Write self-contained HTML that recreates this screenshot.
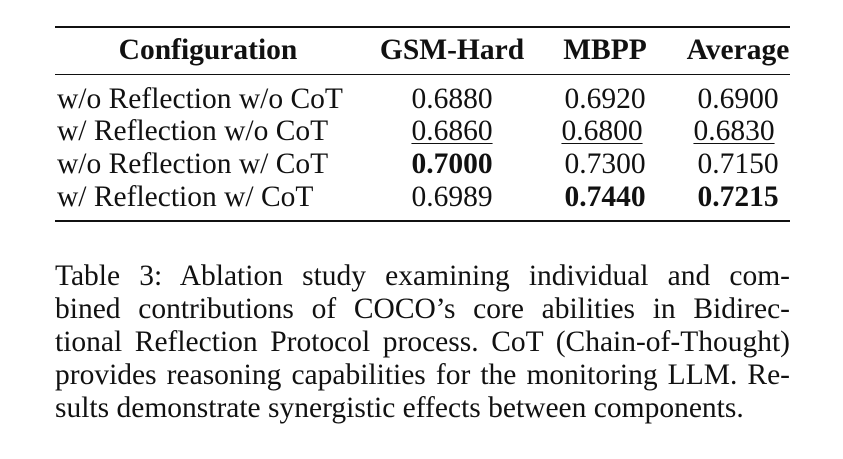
<!DOCTYPE html>
<html><head><meta charset="utf-8"><style>
body{margin:0;width:843px;height:459px;background:#fff;position:relative;overflow:hidden;font-family:"Liberation Serif",serif;color:#111}
.r{position:absolute;left:55px;width:735px;background:#111}
.t{position:absolute;font-size:29.5px;line-height:32px;white-space:nowrap}
.c{transform:translateX(-50%)}
.b{font-weight:bold}
.u{text-decoration:underline;text-decoration-thickness:1px;text-underline-offset:3px}
.cap{position:absolute;left:55px;width:735px;font-size:29.5px;line-height:33px;text-align:justify;top:260px}
.cap span{display:block;text-align:justify;text-align-last:justify;white-space:nowrap}
.cap span.l{text-align-last:left}
</style></head><body>
<div>
<div class="r" style="top:26px;height:2px"></div>
<div class="r" style="top:74px;height:1px"></div>
<div class="r" style="top:220px;height:2px"></div>
<div class="t c b" style="left:208px;top:34px">Configuration</div>
<div class="t c b" style="left:452px;top:34px">GSM-Hard</div>
<div class="t c b" style="left:605px;top:34px">MBPP</div>
<div class="t c b" style="left:738px;top:34px">Average</div>

<div class="t" style="left:57px;top:83px">w/o Reflection w/o CoT</div>
<div class="t c" style="left:452px;top:83px">0.6880</div>
<div class="t c" style="left:605px;top:83px">0.6920</div>
<div class="t c" style="left:738px;top:83px">0.6900</div>

<div class="t" style="left:57px;top:115px">w/ Reflection w/o CoT</div>
<div class="t c u" style="left:452px;top:115px">0.6860</div>
<div class="t c u" style="left:602px;top:115px">0.6800</div>
<div class="t c u" style="left:734px;top:115px">0.6830</div>

<div class="t" style="left:57px;top:148px">w/o Reflection w/ CoT</div>
<div class="t c b" style="left:452px;top:148px">0.7000</div>
<div class="t c" style="left:605px;top:148px">0.7300</div>
<div class="t c" style="left:738px;top:148px">0.7150</div>

<div class="t" style="left:57px;top:181px">w/ Reflection w/ CoT</div>
<div class="t c" style="left:452px;top:181px">0.6989</div>
<div class="t c b" style="left:605px;top:181px">0.7440</div>
<div class="t c b" style="left:738px;top:181px">0.7215</div>
</div>
<div class="cap">
<span>Table 3: Ablation study examining individual and com-</span>
<span>bined contributions of COCO’s core abilities in Bidirec-</span>
<span>tional Reflection Protocol process. CoT (Chain-of-Thought)</span>
<span>provides reasoning capabilities for the monitoring LLM. Re-</span>
<span class="l">sults demonstrate synergistic effects between components.</span>
</div>
</body></html>
